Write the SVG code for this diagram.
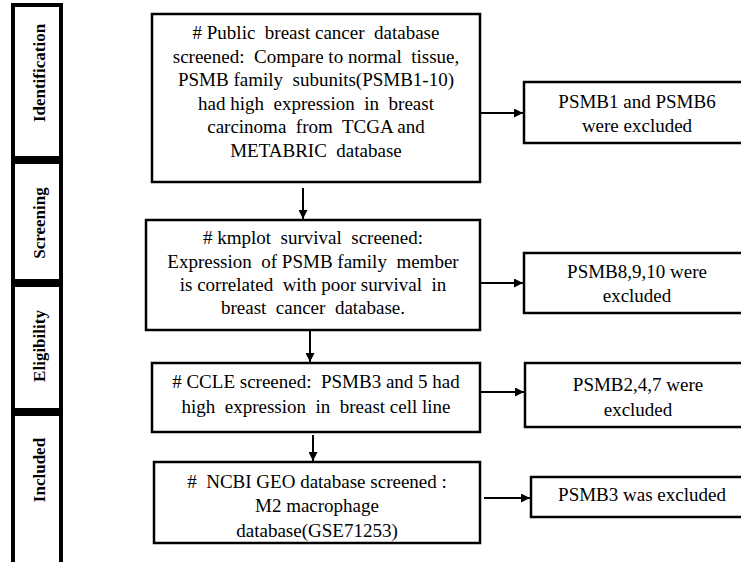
<svg xmlns="http://www.w3.org/2000/svg" width="741" height="562" viewBox="0 0 741 562" xml:space="preserve">
<defs>
<style>
.stage{fill:#fff;stroke:#000;stroke-width:4}
.box{fill:#fff;stroke:#000;stroke-width:2.5}
.lbl{font-family:"Liberation Serif","Times New Roman",serif;font-size:17px;font-weight:bold;fill:#000;text-anchor:middle}
.t{font-family:"Liberation Serif","Times New Roman",serif;font-size:19px;fill:#000;text-anchor:middle;white-space:pre}
.conn{stroke:#000;stroke-width:2;fill:none;marker-end:url(#ah)}
</style>
<marker id="ah" markerWidth="9" markerHeight="9" refX="9" refY="4.5" orient="auto" markerUnits="userSpaceOnUse">
<path d="M0,0 L9,4.5 L0,9 Z" fill="#000"/>
</marker>
</defs>
<rect width="741" height="562" fill="#fff"/>
<g id="stage-identification"><rect class="stage" x="13" y="5" width="48" height="153"/><text class="lbl" transform="translate(45,73) rotate(-90)">Identification</text></g>
<g id="stage-screening"><rect class="stage" x="13" y="162" width="48" height="119"/><text class="lbl" transform="translate(45,223) rotate(-90)">Screening</text></g>
<g id="stage-eligibility"><rect class="stage" x="13" y="285" width="48" height="125"/><text class="lbl" transform="translate(45,346) rotate(-90)">Eligibility</text></g>
<g id="stage-included"><rect class="stage" x="13" y="414" width="48" height="160"/><text class="lbl" transform="translate(45,470) rotate(-90)">Included</text></g>
<g id="box1"><rect class="box" x="152" y="14" width="328" height="168"/><text class="t" x="316" y="39"># Public  breast cancer  database</text><text class="t" x="316" y="62.5">screened:  Compare to normal  tissue,</text><text class="t" x="316" y="86">PSMB family  subunits(PSMB1-10)</text><text class="t" x="316" y="109.5">had high  expression  in  breast</text><text class="t" x="316" y="133">carcinoma  from  TCGA and</text><text class="t" x="316" y="156.5">METABRIC  database</text></g>
<g id="box2"><rect class="box" x="146" y="220" width="334" height="110"/><text class="t" x="313" y="244"># kmplot  survival  screened:</text><text class="t" x="313" y="268">Expression  of PSMB family  member</text><text class="t" x="313" y="291">is correlated  with poor survival  in</text><text class="t" x="313" y="314">breast  cancer  database.</text></g>
<g id="box3"><rect class="box" x="152" y="363" width="328" height="69"/><text class="t" x="316" y="388"># CCLE screened:  PSMB3 and 5 had</text><text class="t" x="316" y="413">high  expression  in  breast cell line</text></g>
<g id="box4"><rect class="box" x="154" y="462" width="326" height="81"/><text class="t" x="317" y="488">#  NCBI GEO database screened :</text><text class="t" x="317" y="512">M2 macrophage</text><text class="t" x="317" y="537">database(GSE71253)</text></g>
<g id="excl1"><rect class="box" x="524" y="82" width="230" height="61"/><text class="t" x="637" y="108">PSMB1 and PSMB6</text><text class="t" x="637" y="132">were excluded</text></g>
<g id="excl2"><rect class="box" x="524" y="253" width="230" height="60"/><text class="t" x="637" y="278">PSMB8,9,10 were</text><text class="t" x="637" y="302">excluded</text></g>
<g id="excl3"><rect class="box" x="525" y="363" width="230" height="64"/><text class="t" x="638" y="391">PSMB2,4,7 were</text><text class="t" x="638" y="416">excluded</text></g>
<g id="excl4"><rect class="box" x="531" y="477" width="230" height="40"/><text class="t" x="642" y="501">PSMB3 was excluded</text></g>
<g id="connectors">
<line class="conn" x1="303" y1="188" x2="303" y2="219"/>
<line class="conn" x1="310" y1="331" x2="310" y2="362"/>
<line class="conn" x1="313" y1="435" x2="313" y2="461"/>
<line class="conn" x1="481" y1="113" x2="523" y2="113"/>
<line class="conn" x1="481" y1="283" x2="523" y2="283"/>
<line class="conn" x1="481" y1="392" x2="524" y2="392"/>
<line class="conn" x1="484" y1="498" x2="530" y2="498"/>
</g>
</svg>
